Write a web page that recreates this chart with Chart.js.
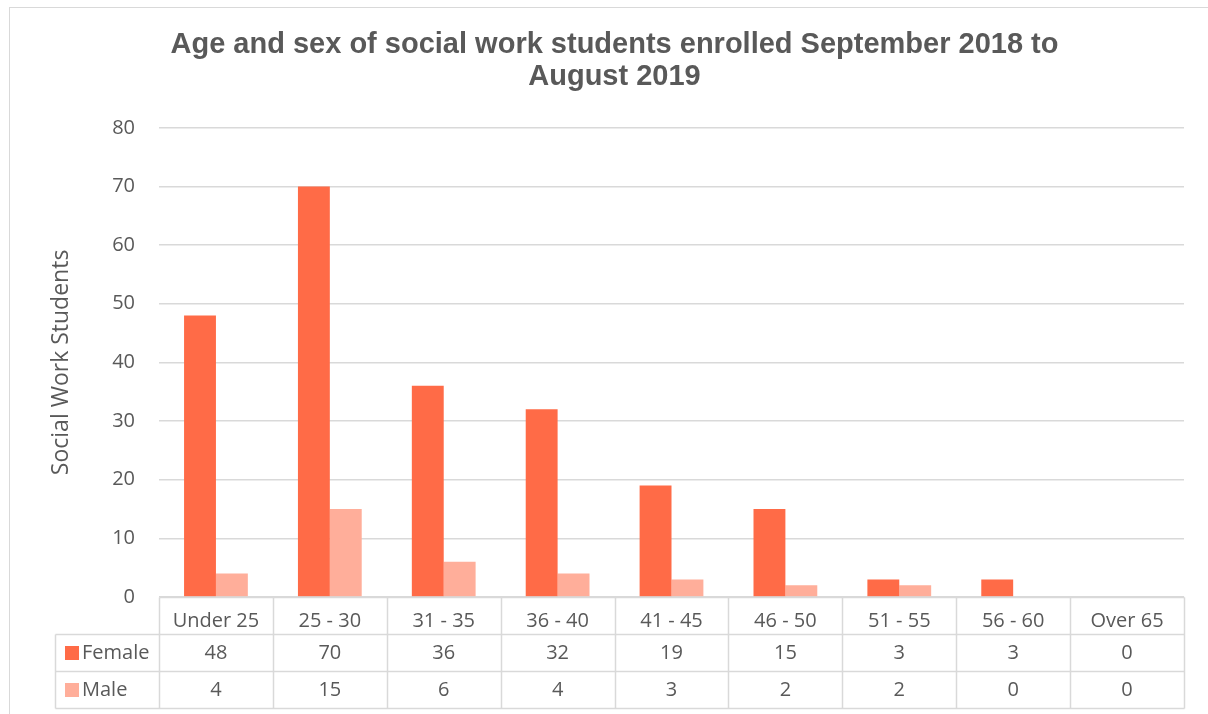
<!DOCTYPE html>
<html>
<head>
<meta charset="utf-8">
<script src="https://cdn.jsdelivr.net/npm/chart.js@4/dist/chart.umd.min.js"></script>
<style>
  html, body { margin: 0; padding: 0; background: #fff; }
  #wrap { width: 1208px; height: 714px; position: relative; }
</style>
</head>
<body>
<div id="wrap"><canvas id="graphCanvas"></canvas></div>
<script>
var categories = ['Under 25', '25 - 30', '31 - 35', '36 - 40', '41 - 45', '46 - 50', '51 - 55', '56 - 60', 'Over 65'];
var female = [48, 70, 36, 32, 19, 15, 3, 3, 0];
var male = [4, 15, 6, 4, 3, 2, 2, 0, 0];
var seriesNames = ['Female', 'Male'];
var yMax = 80;
var yStep = 10;

var femaleColor = '#ff6b47';
var maleColor = '#ffae9a';
var textColor = '#595959';
var lineColor = '#d9d9d9';
var bodyFont = '"Open Sans", "Noto Sans", sans-serif';

// frame + data table under the plot
var tablePlugin = {
  id: 'dataTable',
  beforeDraw: function(chart) {
    var ctx = chart.ctx;
    ctx.save();
    ctx.fillStyle = '#fff';
    ctx.fillRect(0, 0, chart.width, chart.height);
    ctx.strokeStyle = lineColor;
    ctx.lineWidth = 1;
    ctx.strokeRect(9.5, 7.5, chart.width + 20, chart.height + 20);
    ctx.restore();
  },
  afterDraw: function(chart) {
    var ctx = chart.ctx;
    var area = chart.chartArea;
    var x = chart.scales.x;
    var n = categories.length;
    var cw = (area.right - area.left) / n;
    var rowH = 37;
    var top = Math.round(area.bottom) + 0.5;
    var tableLeft = 55.5;
    var right = Math.round(area.right) + 0.5;

    ctx.save();
    ctx.strokeStyle = lineColor;
    ctx.lineWidth = 1.5;
    ctx.beginPath();
    ctx.moveTo(Math.round(area.left) + 0.5, top);
    ctx.lineTo(right, top);
    for (var r = 1; r <= 3; r++) {
      ctx.moveTo(tableLeft, top + rowH * r);
      ctx.lineTo(right, top + rowH * r);
    }
    for (var i = 0; i <= n; i++) {
      var bx = Math.round(area.left + cw * i) + 0.5;
      ctx.moveTo(bx, top);
      ctx.lineTo(bx, top + rowH * 3);
    }
    ctx.moveTo(tableLeft, top + rowH);
    ctx.lineTo(tableLeft, top + rowH * 3);
    ctx.stroke();

    ctx.font = '20px ' + bodyFont;
    ctx.fillStyle = textColor;
    ctx.textBaseline = 'middle';
    var rows = [female, male];
    var colors = [femaleColor, maleColor];
    for (var s = 0; s < rows.length; s++) {
      var cy = top + rowH * (s + 1) + rowH / 2;
      ctx.fillStyle = colors[s];
      ctx.fillRect(65, cy - 7, 14, 14);
      ctx.fillStyle = textColor;
      ctx.textAlign = 'left';
      ctx.fillText(seriesNames[s], 82, cy);
      ctx.textAlign = 'center';
      for (var j = 0; j < n; j++) {
        ctx.fillText(String(rows[s][j]), x.getPixelForValue(j), cy);
      }
    }
    ctx.restore();
  }
};

var chartdata = {
  labels: categories,
  datasets: [
    {
      label: seriesNames[0],
      backgroundColor: femaleColor,
      data: female,
      categoryPercentage: 0.56,
      barPercentage: 1.0
    },
    {
      label: seriesNames[1],
      backgroundColor: maleColor,
      data: male,
      categoryPercentage: 0.56,
      barPercentage: 1.0
    }
  ]
};

var barGraph = new Chart(document.getElementById('graphCanvas'), {
  type: 'bar',
  data: chartdata,
  plugins: [tablePlugin],
  options: {
    responsive: true,
    maintainAspectRatio: false,
    animation: false,
    layout: { padding: { top: 29, right: 24, bottom: 0, left: 45 } },
    plugins: {
      legend: { display: false },
      tooltip: { enabled: false },
      title: {
        display: true,
        text: ['Age and sex of social work students enrolled September 2018 to', 'August 2019'],
        color: textColor,
        font: { family: '"Liberation Sans", Arial, sans-serif', size: 29, weight: 'bold', lineHeight: 1.1 },
        padding: { top: 0, bottom: 35 }
      }
    },
    scales: {
      x: {
        grid: { display: false },
        border: { display: false },
        ticks: {
          color: textColor,
          font: { family: bodyFont, size: 20 },
          padding: 4,
          maxRotation: 0
        },
        afterFit: function(scale) { scale.height = 117; }
      },
      y: {
        min: 0,
        max: yMax,
        ticks: {
          stepSize: yStep,
          color: textColor,
          font: { family: bodyFont, size: 20 },
          padding: 24
        },
        grid: { color: lineColor, lineWidth: 1.5, drawTicks: false },
        border: { display: false },
        title: {
          display: true,
          text: 'Social Work Students',
          color: textColor,
          font: { family: bodyFont, size: 23 },
          padding: { top: 3, bottom: 0 }
        },
        afterFit: function(scale) { scale.width = 114; }
      }
    }
  }
});
</script>
</body>
</html>
